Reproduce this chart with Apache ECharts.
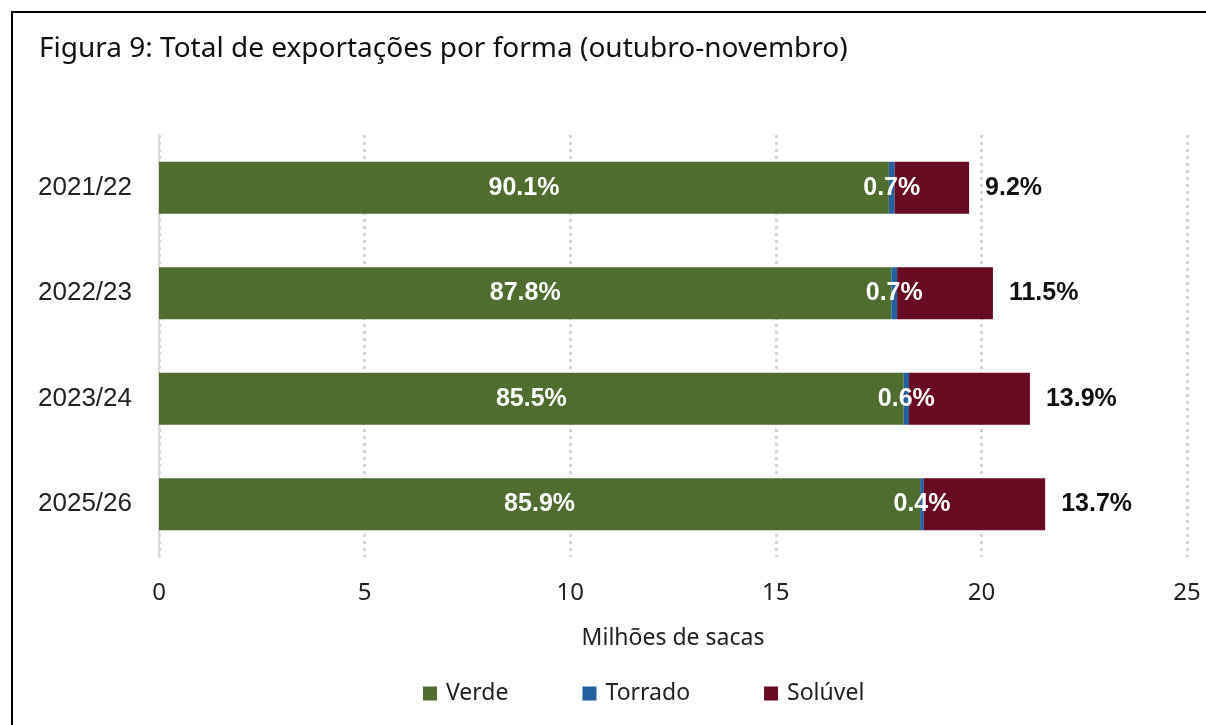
<!DOCTYPE html>
<html>
<head>
<meta charset="utf-8">
<script src="https://cdn.jsdelivr.net/npm/echarts@6/dist/echarts.min.js"></script>
<style>
  html, body { margin: 0; padding: 0; background: #fff; }
  #frame { position: absolute; left: 11px; top: 11px; width: 1195px; height: 714px; border-left: 2px solid #000; border-top: 2px solid #000; box-sizing: border-box; }
  #chart { position: absolute; left: 0; top: 0; width: 1206px; height: 725px; }
</style>
</head>
<body>
<div id="frame"></div>
<div id="chart"></div>
<script>
// safras (de cima para baixo)
const categories = ['2021/22', '2022/23', '2023/24', '2025/26'];
// milhões de sacas
const verde = [17.75, 17.81, 18.11, 18.51];
const torrado = [0.14, 0.14, 0.13, 0.09];
const soluvel = [1.81, 2.33, 2.94, 2.95];
// rótulos em %
const verdePct = ['90.1%', '87.8%', '85.5%', '85.9%'];
const torradoPct = ['0.7%', '0.7%', '0.6%', '0.4%'];
const soluvelPct = ['9.2%', '11.5%', '13.9%', '13.7%'];
const xTicks = [0, 5, 10, 15, 20, 25];

let chart = echarts.init(document.getElementById('chart'));

let labelStyle = {
    show: true,
    fontFamily: 'Liberation Sans',
    fontWeight: 'bold',
    fontSize: 25
};

let option = {
    animation: false,
    title: {
        text: 'Figura 9: Total de exportações por forma (outubro-novembro)',
        left: 34,
        top: 30,
        textStyle: {
            fontFamily: 'Noto Sans',
            fontWeight: 'normal',
            fontSize: 28,
            color: '#111'
        }
    },
    legend: {
        data: ['Verde', 'Torrado', 'Solúvel'],
        left: 418,
        top: 677,
        icon: 'rect',
        itemWidth: 14,
        itemHeight: 14,
        itemGap: 74,
        textStyle: {
            fontFamily: 'Noto Sans',
            fontSize: 23,
            color: '#222',
            padding: [0, 0, 0, 4]
        }
    },
    grid: {
        left: 159,
        right: 19,
        top: 135,
        bottom: 168
    },
    xAxis: {
        type: 'value',
        min: xTicks[0],
        max: xTicks[xTicks.length - 1],
        interval: 5,
        name: 'Milhões de sacas',
        nameLocation: 'middle',
        nameGap: 70,
        nameTextStyle: {
            fontFamily: 'Noto Sans',
            fontSize: 23,
            color: '#222'
        },
        axisLine: { show: false },
        axisTick: { show: false },
        axisLabel: {
            margin: 24,
            fontFamily: 'Noto Sans',
            fontSize: 24,
            color: '#222'
        },
        splitLine: {
            show: true,
            lineStyle: { color: '#d4d4d4', width: 3, type: [3, 4] }
        }
    },
    yAxis: {
        type: 'category',
        data: categories,
        inverse: true,
        axisLine: { show: true, lineStyle: { color: '#d9d9d9', width: 2 } },
        axisTick: { show: false },
        axisLabel: {
            margin: 27,
            fontFamily: 'Liberation Sans',
            fontSize: 26,
            color: '#222'
        }
    },
    series: [
        {
            name: 'Verde',
            type: 'bar',
            stack: 'total',
            barWidth: 52,
            data: verde,
            itemStyle: { color: '#4f6d2f' },
            label: Object.assign({}, labelStyle, {
                position: 'inside',
                color: '#fff',
                formatter: p => verdePct[p.dataIndex]
            })
        },
        {
            name: 'Torrado',
            type: 'bar',
            stack: 'total',
            data: torrado,
            itemStyle: { color: '#22609e' },
            label: Object.assign({}, labelStyle, {
                position: 'inside',
                color: '#fff',
                formatter: p => torradoPct[p.dataIndex]
            })
        },
        {
            name: 'Solúvel',
            type: 'bar',
            stack: 'total',
            data: soluvel,
            itemStyle: { color: '#680a22' },
            label: Object.assign({}, labelStyle, {
                position: 'right',
                distance: 16,
                color: '#111',
                formatter: p => soluvelPct[p.dataIndex]
            })
        }
    ]
};

chart.setOption(option);
</script>
</body>
</html>
